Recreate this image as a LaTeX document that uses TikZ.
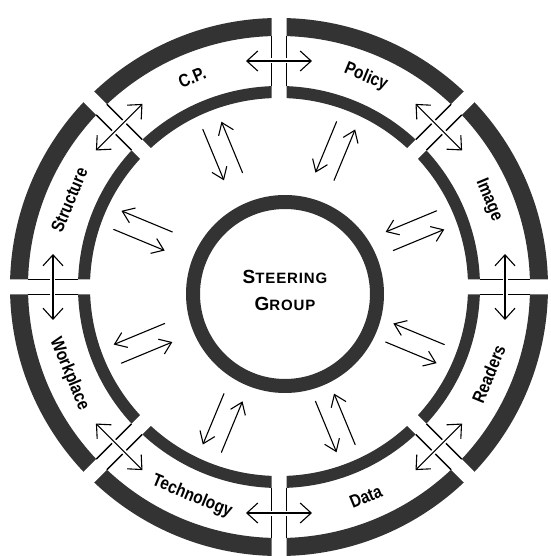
\documentclass[tikz,border=0pt]{standalone}
\usepackage{fontspec}
\setmainfont{Liberation Sans}
\usepackage{tikz}
\usetikzlibrary{arrows.meta}
\usepackage{tkz-euclide}

\begin{document}
\begin{tikzpicture}[x=10pt, y=10pt,
    ringband/.style={draw=black!80},
    lanelabel/.style={font=\bfseries\fontsize{18}{18}\selectfont, xscale=0.85},
    flowarrow/.style={line width=1.1pt, -{Straight Barb[length=11pt, width=16pt]}},
    tradearrow/.style={line width=1.1pt, {Straight Barb[length=11pt, width=20pt]}-{Straight Barb[length=11pt, width=20pt]}}]
                \useasboundingbox (-27.9,-26.9) rectangle (27.1,28.7);
                \tkzDefPoints{0/0/O, 0/26/T, 0/19.5/U, 0.6/-0.7/G, 0.6/8.5/V}
                \tkzDefPoints{-3.3/22.6/n1, 3.3/22.6/n2, 13.65/18.31/ne1, 18.31/13.65/ne2}
                \tkzDefPoints{22.6/3.3/e1, 22.6/-3.3/e2, 18.31/-13.65/se1, 13.65/-18.31/se2}
                \tkzDefPoints{3.3/-22.6/s1, -3.3/-22.6/s2, -13.65/-18.31/sw1, -18.31/-13.65/sw2}
                \tkzDefPoints{-22.6/-3.3/w1, -22.6/3.3/w2, -18.31/13.65/nw1, -13.65/18.31/nw2}
                \tkzDefPoint(115.8:17.5){cp1} \tkzDefPoint(117.3:12){cp2} \tkzDefPoint(107.7:12){cp3} \tkzDefPoint(109.2:17.5){cp4}
                \tkzDefPoint(70.8:17.5){po1} \tkzDefPoint(72.3:12){po2} \tkzDefPoint(62.7:12){po3} \tkzDefPoint(64.2:17.5){po4}
                \tkzDefPoint(25.8:17.5){im1} \tkzDefPoint(27.3:12){im2} \tkzDefPoint(17.7:12){im3} \tkzDefPoint(19.2:17.5){im4}
                \tkzDefPoint(-19.2:17.5){re1} \tkzDefPoint(-17.7:12){re2} \tkzDefPoint(-27.3:12){re3} \tkzDefPoint(-25.8:17.5){re4}
                \tkzDefPoint(-64.2:17.5){da1} \tkzDefPoint(-62.7:12){da2} \tkzDefPoint(-72.3:12){da3} \tkzDefPoint(-70.8:17.5){da4}
                \tkzDefPoint(-109.2:17.5){te1} \tkzDefPoint(-107.7:12){te2} \tkzDefPoint(-117.3:12){te3} \tkzDefPoint(-115.8:17.5){te4}
                \tkzDefPoint(-154.2:17.5){wo1} \tkzDefPoint(-152.7:12){wo2} \tkzDefPoint(-162.3:12){wo3} \tkzDefPoint(-160.8:17.5){wo4}
                \tkzDefPoint(160.8:17.5){st1} \tkzDefPoint(162.3:12){st2} \tkzDefPoint(152.7:12){st3} \tkzDefPoint(154.2:17.5){st4}
                % the ring of eight lanes
                \tkzDrawCircle[ringband, line width=18pt](O,T)
                \tkzDrawCircle[ringband, line width=12pt](O,U)
                \fill[white] (-0.75,17) rectangle (0.75,28) (-0.75,-17) rectangle (0.75,-28) (17,-0.75) rectangle (28,0.75) (-17,-0.75) rectangle (-28,0.75);
                \fill[white, rotate=45] (-0.75,17) rectangle (0.75,28) (-0.75,-17) rectangle (0.75,-28) (17,-0.75) rectangle (28,0.75) (-17,-0.75) rectangle (-28,0.75);
                \draw[line width=1.4pt] (-0.75,20.1) -- (-0.75,25.1) (0.75,20.1) -- (0.75,25.1) (-0.75,-20.1) -- (-0.75,-25.1) (0.75,-20.1) -- (0.75,-25.1)
                    (20.1,-0.75) -- (25.1,-0.75) (20.1,0.75) -- (25.1,0.75) (-20.1,-0.75) -- (-25.1,-0.75) (-20.1,0.75) -- (-25.1,0.75);
                \draw[line width=1.4pt, rotate=45] (-0.75,20.1) -- (-0.75,25.1) (0.75,20.1) -- (0.75,25.1) (-0.75,-20.1) -- (-0.75,-25.1) (0.75,-20.1) -- (0.75,-25.1)
                    (20.1,-0.75) -- (25.1,-0.75) (20.1,0.75) -- (25.1,0.75) (-20.1,-0.75) -- (-25.1,-0.75) (-20.1,0.75) -- (-25.1,0.75);
                \node[rotate=22.5, lanelabel] (cp) at (112.5:22.7) {C.P.};
                \node[rotate=-22.5, lanelabel] (po) at (67.5:22.7) {Policy};
                \node[rotate=-67.5, lanelabel] (im) at (22.5:22.7) {Image};
                \node[rotate=67.5, lanelabel] (re) at (-22.5:22.7) {Readers};
                \node[rotate=22.5, lanelabel] (da) at (-67.5:22.7) {Data};
                \node[rotate=-22.5, lanelabel] (te) at (-112.5:22.7) {Technology};
                \node[rotate=-67.5, lanelabel] (wo) at (-157.5:22.7) {Workplace};
                \node[rotate=67.5, lanelabel] (st) at (157.5:22.7) {Structure};
                % steering group in the middle
                \tkzDrawCircle[ringband, line width=14pt](G,V)
                \node[align=center, yshift=4pt, font=\bfseries\fontsize{15}{27}\selectfont\addfontfeature{LetterSpace=6}] (sg) at (G)
                    {{\fontsize{19}{27}\selectfont S}TEERING\\{\fontsize{19}{27}\selectfont G}ROUP};
                \tkzDrawSegments[flowarrow](cp1,cp2 cp3,cp4 po1,po2 po3,po4 im1,im2 im3,im4 re1,re2 re3,re4)
                \tkzDrawSegments[flowarrow](da1,da2 da3,da4 te1,te2 te3,te4 wo1,wo2 wo3,wo4 st1,st2 st3,st4)
                \tkzDrawSegments[white, line width=5pt](n1,n2 ne1,ne2 e1,e2 se1,se2 s1,s2 sw1,sw2 w1,w2 nw1,nw2)
                \tkzDrawSegments[tradearrow](n1,n2 ne1,ne2 e1,e2 se1,se2 s1,s2 sw1,sw2 w1,w2 nw1,nw2)
            \end{tikzpicture}
\end{document}
